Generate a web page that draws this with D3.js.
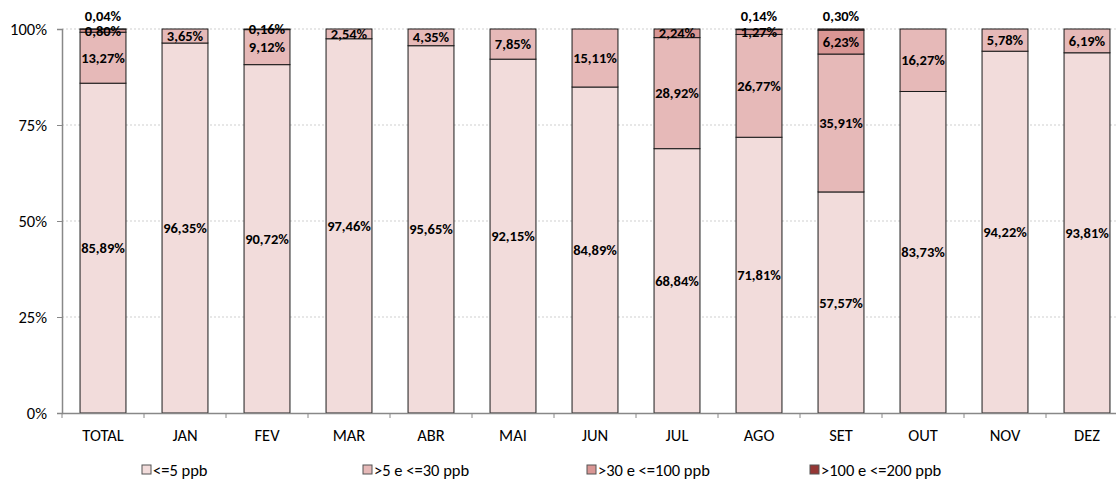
<!DOCTYPE html>
<html><head><meta charset="utf-8">
<script src="https://cdn.jsdelivr.net/npm/d3@7"></script>
<style>body{margin:0;background:#fff}svg{display:block}</style>
</head><body><svg id="c" width="1116" height="479"></svg>
<script>
const categories = ["TOTAL","JAN","FEV","MAR","ABR","MAI","JUN","JUL","AGO","SET","OUT","NOV","DEZ"];
const seriesNames = ["<=5 ppb", ">5 e <=30 ppb", ">30 e <=100 ppb", ">100 e <=200 ppb"];
const s1 = [85.89, 96.35, 90.72, 97.46, 95.65, 92.15, 84.89, 68.84, 71.81, 57.57, 83.73, 94.22, 93.81];
const s2 = [13.27, 3.65, 9.12, 2.54, 4.35, 7.85, 15.11, 28.92, 26.77, 35.91, 16.27, 5.78, 6.19];
const s3 = [0.80, 0, 0.16, 0, 0, 0, 0, 2.24, 1.27, 6.23, 0, 0, 0];
const s4 = [0.04, 0, 0, 0, 0, 0, 0, 0, 0.14, 0.30, 0, 0, 0];
const yTicks = [0, 0.25, 0.5, 0.75, 1];
const colors = ["#f2dcdb", "#e6b9b8", "#d99694", "#953735"];

const font = "Carlito, Calibri, Lato, 'Liberation Sans', Arial, sans-serif";
const svg = d3.select("#c").style("font-family", font);
const x = d3.scaleBand().domain(categories).range([62, 1128]).paddingInner(0.44).paddingOuter(0.22);
const y = d3.scaleLinear().domain([0, 1]).range([413, 29]);

// gridlines
svg.append("g").selectAll("line").data(yTicks.filter(d => d > 0)).join("line")
  .attr("x1", 62).attr("x2", 1116).attr("y1", d => y(d)).attr("y2", d => y(d))
  .attr("stroke", "#cfcfcf").attr("stroke-dasharray", "2,2").attr("stroke-width", 1);

const all = [s1, s2, s3, s4];
const rows = categories.map((c, i) => {
  let acc = 0;
  return all.map((s, k) => { const v = s[i] / 100; const r = {c, k, v, y0: acc, y1: acc + v}; acc += v; return r; });
});

const g = svg.append("g");
rows.forEach(r => {
  g.selectAll(null).data(r.filter(d => d.v > 0)).join("rect")
    .attr("x", d => x(d.c)).attr("width", x.bandwidth())
    .attr("y", d => y(d.y1)).attr("height", d => y(d.y0) - y(d.y1))
    .attr("fill", d => colors[d.k]).attr("stroke", "#1a1a1a").attr("stroke-width", 1);
});

// axes
const yAxis = d3.axisLeft(y).tickValues(yTicks).tickFormat(d => Math.round(d * 100) + "%").tickSize(5).tickPadding(10);
const ya = svg.append("g").attr("transform", "translate(62,0)").call(yAxis);
ya.select(".domain").attr("stroke", "#888").attr("stroke-width", 1.5);
ya.selectAll(".tick line").attr("stroke", "#888");
ya.selectAll("text").attr("font-size", 16.5).attr("fill", "#000").style("font-family", font);

const xa = svg.append("g").attr("transform", "translate(0,413)")
  .call(d3.axisBottom(x).tickSize(0).tickPadding(16));
xa.select(".domain").attr("stroke", "#888").attr("stroke-width", 1.5);
xa.selectAll("text").attr("font-size", 16.5).attr("fill", "#000").style("font-family", font);
// category boundary ticks
const step = x.step();
svg.append("g").selectAll("line").data(d3.range(categories.length + 1)).join("line")
  .attr("x1", i => 62 + i * step).attr("x2", i => 62 + i * step)
  .attr("y1", 413).attr("y2", 418).attr("stroke", "#888");

// labels
const fmt = v => v.toFixed(2).replace(".", ",") + "%";
rows.forEach(r => {
  r.filter(d => d.v > 0).forEach(d => {
    const cx = x(d.c) + x.bandwidth() / 2;
    const cy = d.k === 3 ? y(1) - 13 : y((d.y0 + d.y1) / 2);
    g.append("text").attr("x", cx).attr("y", cy).attr("dy", "0.35em")
      .attr("text-anchor", "middle").attr("font-size", 14.5).attr("font-weight", "bold")
      .attr("fill", "#000").text(fmt(d.v * 100));
  });
});

// legend
const legX = [142, 363, 587, 810];
const lg = svg.append("g");
seriesNames.forEach((n, k) => {
  lg.append("rect").attr("x", legX[k]).attr("y", 465).attr("width", 9).attr("height", 9)
    .attr("fill", colors[k]).attr("stroke", "#555").attr("stroke-width", 1);
  lg.append("text").attr("x", legX[k] + 11).attr("y", 470).attr("dy", "0.35em")
    .attr("font-size", 16.5).attr("fill", "#000").text(n);
});
</script></body></html>
